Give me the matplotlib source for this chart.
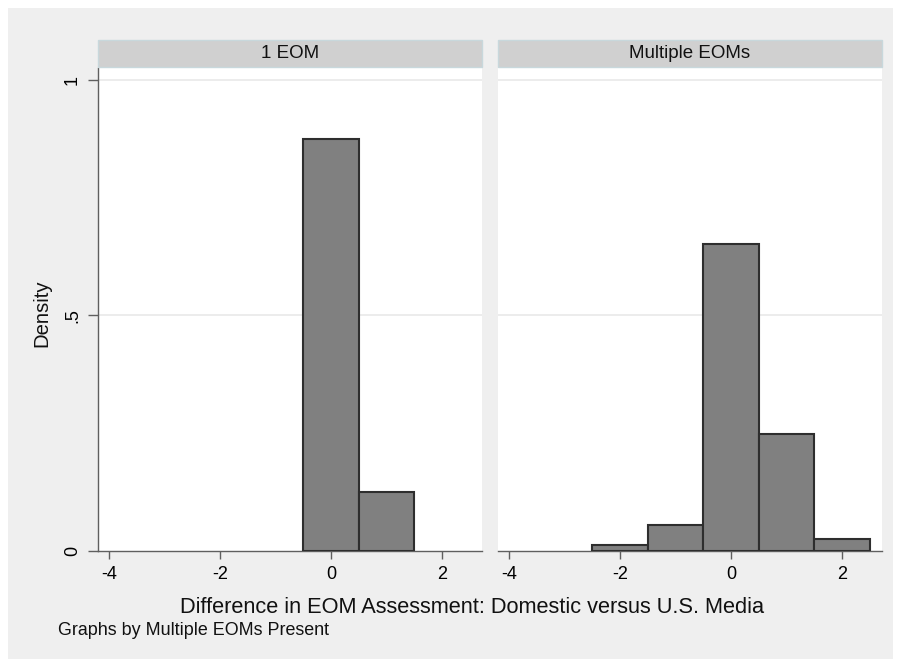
import matplotlib
matplotlib.use("Agg")
import matplotlib.pyplot as plt
from matplotlib.patches import Rectangle

plt.rcParams['font.family'] = ['Liberation Sans', 'DejaVu Sans']

# Data
panels = ["1 EOM", "Multiple EOMs"]
bins_1 = [0, 1]
density_1 = [0.875, 0.125]
bins_2 = [-2, -1, 0, 1, 2]
density_2 = [0.012, 0.054, 0.651, 0.248, 0.024]
xticks = [-4, -2, 0, 2]
xtick_labels = ["-4", "-2", "0", "2"]
yticks = [0, 0.5, 1]
ytick_labels = ["0", ".5", "1"]
xlabel = "Difference in EOM Assessment: Domestic versus U.S. Media"
ylabel = "Density"
note = "Graphs by Multiple EOMs Present"

W, H = 900, 659
fig = plt.figure(figsize=(W / 100, H / 100), dpi=100)
fig.patch.set_facecolor('white')

def fx(px):
    return px / W

def fy(py):
    return 1 - py / H

# outer gray background
fig.patches.append(Rectangle((fx(8), 0), fx(893) - fx(8), fy(8), transform=fig.transFigure,
                             facecolor='#efefef', edgecolor='none', zorder=-10))

ax_top, ax_bot = 67.5, 550.5
lefts = [97.7, 498]
rights = [482, 882]
data = [(bins_1, density_1), (bins_2, density_2)]
axis_col = '#5f5f5f'

for i in range(2):
    l, r = lefts[i], rights[i]
    ax = fig.add_axes([fx(l), fy(ax_bot), fx(r) - fx(l), (ax_bot - ax_top) / H])
    ax.set_zorder(1)
    ax.set_facecolor('white')
    b, d = data[i]
    ax.bar(b, d, width=1.0, color='#808080', edgecolor='#2e2e2e', linewidth=1.5, zorder=3)
    ax.set_xlim(-4.2, 2.72)
    ax.set_ylim(0, 1.026)
    for yv in [0.5, 1.0]:
        ax.axhline(yv, color='#eaeaea', lw=1.3, zorder=1)
    ax.set_xticks(xticks)
    ax.set_xticklabels(xtick_labels, fontsize=13)
    ax.tick_params(axis='x', length=6, width=1.0, color=axis_col, pad=5)
    for s in ['top', 'right']:
        ax.spines[s].set_visible(False)
    ax.spines['bottom'].set_color(axis_col)
    ax.spines['bottom'].set_linewidth(1.0)
    if i == 0:
        ax.spines['left'].set_color(axis_col)
        ax.spines['left'].set_linewidth(1.0)
        ax.set_yticks(yticks)
        ax.set_yticklabels(ytick_labels, fontsize=13, rotation=90, va='center')
        ax.tick_params(axis='y', length=7, width=1.0, color=axis_col, pad=5)
    else:
        ax.spines['left'].set_visible(False)
        ax.set_yticks([])
    # strip
    fig.patches.append(Rectangle((fx(l), fy(66.7)), fx(r) - fx(l), (66.7 - 40) / H,
                                 transform=fig.transFigure, facecolor='#d0d0d0',
                                 edgecolor='#c8d8dc', linewidth=1.0, zorder=2))
    fig.text(fx((l + r) / 2), fy(53.5), panels[i], ha='center', va='center', fontsize=13.5,
             color='#111111')

fig.text(fx(472), fy(613), xlabel, ha='center', va='baseline', fontsize=15.7, color='#111111')
fig.text(fx(42), fy(313), ylabel, ha='center', va='center', rotation=90, fontsize=14.6,
         color='#111111')
fig.text(fx(58), fy(635), note, ha='left', va='baseline', fontsize=12.9, color='#111111')

fig.savefig('out.png', dpi=100)
